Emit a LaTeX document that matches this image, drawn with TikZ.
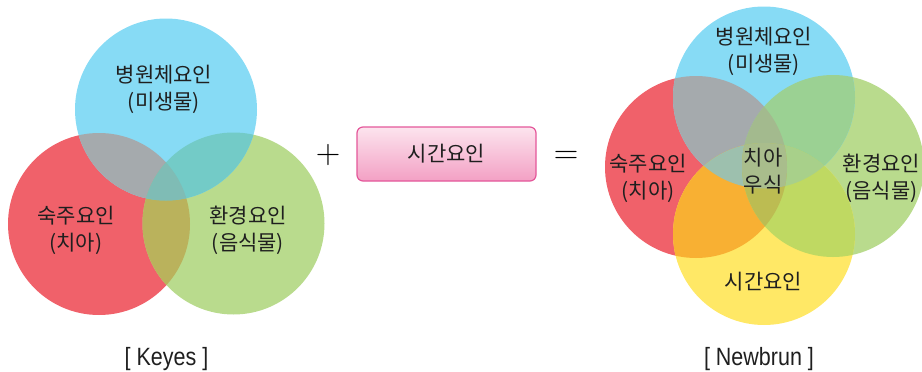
\documentclass[tikz,border=0pt]{standalone}
\usepackage{fontspec}
\newfontfamily\kr{Noto Sans CJK KR}
\newfontfamily\narrow{Liberation Sans}[FakeStretch=0.86]

\definecolor{hostred}{HTML}{F0616A}
\definecolor{agentblue}{HTML}{87DBF5}
\definecolor{envgreen}{HTML}{B9DB8D}
\definecolor{timeyellow}{HTML}{FFE866}
\definecolor{hostagent}{HTML}{A5AAAD}
\definecolor{hostenv}{HTML}{BAB25C}
\definecolor{agentenvk}{HTML}{73CBC7}
\definecolor{agentenvn}{HTML}{9BD193}
\definecolor{keyescenter}{HTML}{7FBCB5}
\definecolor{hosttime}{HTML}{F8B033}
\definecolor{envtime}{HTML}{BFD962}
\definecolor{hostagentenv}{HTML}{A3BA8E}
\definecolor{hostagenttime}{HTML}{9DC0AE}
\definecolor{agentenvtime}{HTML}{A8D08A}
\definecolor{hostenvtime}{HTML}{BCBC52}
\definecolor{allfour}{HTML}{A9BD8C}
\definecolor{boxtop}{HTML}{FCE4EE}
\definecolor{boxbottom}{HTML}{F3A0C4}
\definecolor{boxedge}{HTML}{E4579A}

\tikzset{
  venn/.style={
    x=1pt, y=-1pt,
    factor/.style={
        font=\kr\fontsize{21}{27}\selectfont,
        align=center,
        inner sep=0pt,
        text=black!88,
    },
    caption/.style={
        font=\narrow\fontsize{25}{28}\selectfont,
        anchor=base,
        inner sep=0pt,
        text=black!88,
    },
    sign/.style={
        font=\fontsize{34}{34}\selectfont,
        inner sep=0pt,
    },
    time box/.style={
        draw=boxedge,
        line width=1.2pt,
        rounded corners=6pt,
        top color=boxtop,
        bottom color=boxbottom,
        minimum width=179pt,
        minimum height=54pt,
        font=\kr\fontsize{21}{24}\selectfont,
        text=black!88,
    }
  }
}
\newcommand{\vennr}{91pt}
\newcommand{\overlap}[3]{
    \begin{scope}
        \clip (#1) circle (\vennr);
        \fill[#3] (#2) circle (\vennr);
    \end{scope}
}
\newcommand{\overlapthree}[4]{
    \begin{scope}
        \clip (#1) circle (\vennr);
        \clip (#2) circle (\vennr);
        \fill[#4] (#3) circle (\vennr);
    \end{scope}
}

\begin{document}
\begin{tikzpicture}[venn]
    \useasboundingbox (0,0) rectangle (922,372);

    % Keyes
    \coordinate (k-agent) at (166,109.5);
    \coordinate (k-host) at (99,224);
    \coordinate (k-env) at (233.5,223.5);
    \fill[hostred] (k-host) circle (\vennr);
    \fill[envgreen] (k-env) circle (\vennr);
    \fill[agentblue] (k-agent) circle (\vennr);
    \overlap{k-host}{k-agent}{hostagent}
    \overlap{k-host}{k-env}{hostenv}
    \overlap{k-env}{k-agent}{agentenvk}
    \overlapthree{k-host}{k-env}{k-agent}{keyescenter}
    \node[factor] (k-agent-text) at (164,89) {병원체요인\\(미생물)};
    \node[factor] (k-host-text) at (76,230) {숙주요인\\(치아)};
    \node[factor] (k-env-text) at (248,230) {환경요인\\(음식물)};
    \node[caption] (keyes) at (166.5,365.5) {[ Keyes ]};

    \node[sign] (plus) at (328,155) {+};
    \node[time box] (time) at (446.5,154) {시간요인};
    \node[sign] (equals) at (566,157) {=};

    % Newbrun
    \coordinate (n-agent) at (764,97.5);
    \coordinate (n-host) at (696,167);
    \coordinate (n-env) at (833,166);
    \coordinate (n-time) at (764,234);
    \fill[hostred] (n-host) circle (\vennr);
    \fill[envgreen] (n-env) circle (\vennr);
    \fill[agentblue] (n-agent) circle (\vennr);
    \fill[timeyellow] (n-time) circle (\vennr);
    \overlap{n-host}{n-agent}{hostagent}
    \overlap{n-agent}{n-env}{agentenvn}
    \overlap{n-host}{n-time}{hosttime}
    \overlap{n-env}{n-time}{envtime}
    \overlapthree{n-host}{n-agent}{n-env}{hostagentenv}
    \overlapthree{n-host}{n-agent}{n-time}{hostagenttime}
    \overlapthree{n-agent}{n-env}{n-time}{agentenvtime}
    \overlapthree{n-host}{n-env}{n-time}{hostenvtime}
    \begin{scope}
        \clip (n-host) circle (\vennr);
        \clip (n-agent) circle (\vennr);
        \clip (n-env) circle (\vennr);
        \fill[allfour] (n-time) circle (\vennr);
    \end{scope}
    \node[factor] (n-agent-text) at (764,51) {병원체요인\\(미생물)};
    \node[factor] (n-host-text) at (648,178) {숙주요인\\(치아)};
    \node[factor] (n-env-text) at (881.5,178) {환경요인\\(음식물)};
    \node[factor] (n-caries) at (763,171) {치아\\우식};
    \node[factor] (n-time-text) at (763.5,282) {시간요인};
    \node[caption] (newbrun) at (759,365.5) {[ Newbrun ]};
\end{tikzpicture}
\end{document}
